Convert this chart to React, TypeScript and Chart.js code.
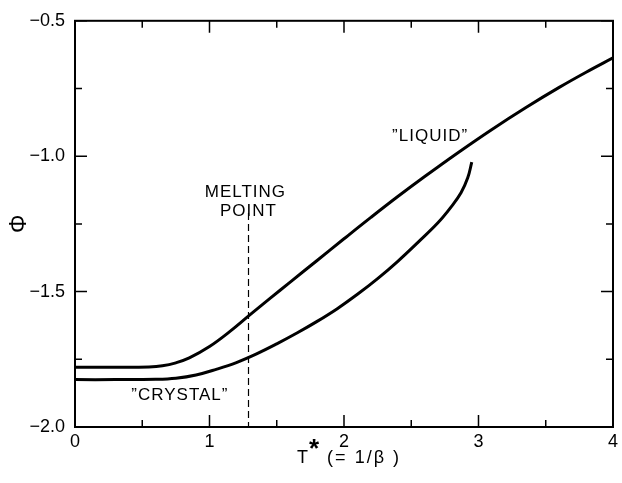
import React, { useEffect, useRef } from "react";
import { Chart, registerables } from "chart.js";

Chart.register(...registerables);

// Data
const liquidT = [0, 0.3, 0.55, 0.65, 0.75, 0.85, 1.0, 1.15, 1.3, 1.45, 1.6, 1.8, 2.0, 2.2, 2.4, 2.6, 2.85, 3.1, 3.35, 3.6, 3.8, 4.0];
const liquidPhi = [-1.779, -1.779, -1.778, -1.774, -1.763, -1.745, -1.703, -1.648, -1.586, -1.525, -1.465, -1.385, -1.305, -1.226, -1.149, -1.075, -0.986, -0.901, -0.821, -0.746, -0.69, -0.637];

const crystalT = [0, 0.3, 0.6, 0.75, 0.9, 1.05, 1.2, 1.35, 1.5, 1.65, 1.8, 1.95, 2.1, 2.25, 2.4, 2.55, 2.7, 2.8, 2.87, 2.92, 2.95];
const crystalPhi = [-1.825, -1.825, -1.824, -1.82, -1.808, -1.787, -1.762, -1.73, -1.693, -1.653, -1.61, -1.563, -1.51, -1.452, -1.388, -1.318, -1.245, -1.185, -1.135, -1.08, -1.022];

const meltingT = 1.29;
const meltingPhiRange = [-1.21, -2.0];

const xMajorTicks = [0, 1, 2, 3, 4];
const xMinorTicks = [0.5, 1.5, 2.5, 3.5];
const yMajorTicks = [-2.0, -1.5, -1.0, -0.5];
const yMinorTicks = [-1.75, -1.25, -0.75];

const labelTexts = ["MELTING", "POINT", "\u201DLIQUID\u201D", "\u201DCRYSTAL\u201D"];
const labelT = [1.267, 1.29, 2.64, 0.78];
const labelPhi = [-1.132, -1.205, -0.927, -1.883];

const FONT = '"Liberation Sans", Arial, sans-serif';

const decorPlugin = {
  id: "decor",
  afterDraw(chart: any) {
    const { ctx, chartArea: a, scales } = chart;
    const xs = scales.x;
    const ys = scales.y;
    ctx.save();
    ctx.strokeStyle = "#000";
    ctx.lineWidth = 2;
    ctx.strokeRect(a.left, a.top, a.right - a.left, a.bottom - a.top);
    ctx.lineWidth = 1.5;
    const major = 12;
    const minor = 7;
    const drawX = (v: number, len: number) => {
      const p = xs.getPixelForValue(v);
      ctx.beginPath();
      ctx.moveTo(p, a.bottom);
      ctx.lineTo(p, a.bottom - len);
      ctx.moveTo(p, a.top);
      ctx.lineTo(p, a.top + len);
      ctx.stroke();
    };
    const drawY = (v: number, len: number) => {
      const p = ys.getPixelForValue(v);
      ctx.beginPath();
      ctx.moveTo(a.left, p);
      ctx.lineTo(a.left + len, p);
      ctx.moveTo(a.right, p);
      ctx.lineTo(a.right - len, p);
      ctx.stroke();
    };
    xMajorTicks.forEach((v) => drawX(v, major));
    xMinorTicks.forEach((v) => drawX(v, minor));
    yMajorTicks.forEach((v) => drawY(v, major));
    yMinorTicks.forEach((v) => drawY(v, minor));

    // annotations
    ctx.fillStyle = "#000";
    ctx.font = `17px ${FONT}`;
    (ctx as any).letterSpacing = "1px";
    ctx.textAlign = "center";
    ctx.textBaseline = "middle";
    labelTexts.forEach((t, i) => {
      ctx.fillText(t, xs.getPixelForValue(labelT[i]), ys.getPixelForValue(labelPhi[i]));
    });

    // x title
    const cx = (a.left + a.right) / 2;
    ctx.textAlign = "left";
    ctx.textBaseline = "alphabetic";
    (ctx as any).letterSpacing = "0px";
    ctx.font = `18px ${FONT}`;
    const tW = ctx.measureText("T").width;
    ctx.font = `bold 26px ${FONT}`;
    const sW = ctx.measureText("*").width;
    ctx.font = `18px ${FONT}`;
    (ctx as any).letterSpacing = "2px";
    const rest = " (= 1/\u03B2 )";
    const rW = ctx.measureText(rest).width;
    const total = tW + sW + 2 + rW;
    const x0 = cx - total / 2 + 5;
    const base = a.bottom + 36;
    (ctx as any).letterSpacing = "0px";
    ctx.fillText("T", x0, base);
    ctx.font = `bold 26px ${FONT}`;
    ctx.fillText("*", x0 + tW + 1, base - 6);
    ctx.font = `18px ${FONT}`;
    (ctx as any).letterSpacing = "2px";
    ctx.fillText(rest, x0 + tW + sW + 2, base);
    (ctx as any).letterSpacing = "0px";

    // y title (rotated)
    ctx.save();
    ctx.translate(20, (a.top + a.bottom) / 2);
    ctx.rotate(-Math.PI / 2);
    ctx.textAlign = "center";
    ctx.textBaseline = "middle";
    ctx.font = `23px ${FONT}`;
    ctx.fillText("\u03A6", 0, 0);
    ctx.restore();

    ctx.restore();
  },
};

export default function App() {
  const ref = useRef<HTMLCanvasElement | null>(null);
  useEffect(() => {
    if (!ref.current) return;
    const chart = new Chart(ref.current, {
      type: "scatter",
      data: {
        datasets: [
          {
            label: "Liquid",
            data: liquidT.map((t, i) => ({ x: t, y: liquidPhi[i] })),
            showLine: true,
            borderColor: "#000",
            borderWidth: 3,
            pointRadius: 0,
            tension: 0.4,
          },
          {
            label: "Crystal",
            data: crystalT.map((t, i) => ({ x: t, y: crystalPhi[i] })),
            showLine: true,
            borderColor: "#000",
            borderWidth: 3,
            pointRadius: 0,
            tension: 0.4,
          },
          {
            label: "Melting point",
            data: meltingPhiRange.map((p) => ({ x: meltingT, y: p })),
            showLine: true,
            borderColor: "#000",
            borderWidth: 1.2,
            borderDash: [7, 4],
            pointRadius: 0,
          },
        ],
      },
      options: {
        animation: false,
        responsive: false,
        devicePixelRatio: 1,
        layout: { padding: { top: 18, right: 4, left: 0, bottom: 0 } },
        plugins: { legend: { display: false }, tooltip: { enabled: false } },
        scales: {
          x: {
            type: "linear",
            min: 0,
            max: 4,
            grid: { display: false, drawTicks: false },
            border: { display: false },
            ticks: {
              stepSize: 1,
              padding: 4,
              color: "#000",
              font: { family: FONT, size: 18 },
              callback: (v: any) => String(v),
            },
            afterFit: (s: any) => {
              s.height = 56;
            },
          },
          y: {
            type: "linear",
            min: -2,
            max: -0.5,
            grid: { display: false, drawTicks: false },
            border: { display: false },
            ticks: {
              stepSize: 0.5,
              padding: 10,
              color: "#000",
              font: { family: FONT, size: 18 },
              callback: (v: any) => Number(v).toFixed(1).replace("-", "\u2212"),
            },
            afterFit: (s: any) => {
              s.width = 75;
            },
          },
        },
      },
      plugins: [decorPlugin],
    } as any);
    return () => chart.destroy();
  }, []);
  return (
    <div style={{ position: "absolute", left: 0, top: 0, width: 622, height: 483, background: "#fff" }}>
      <canvas ref={ref} width={622} height={483} />
    </div>
  );
}
